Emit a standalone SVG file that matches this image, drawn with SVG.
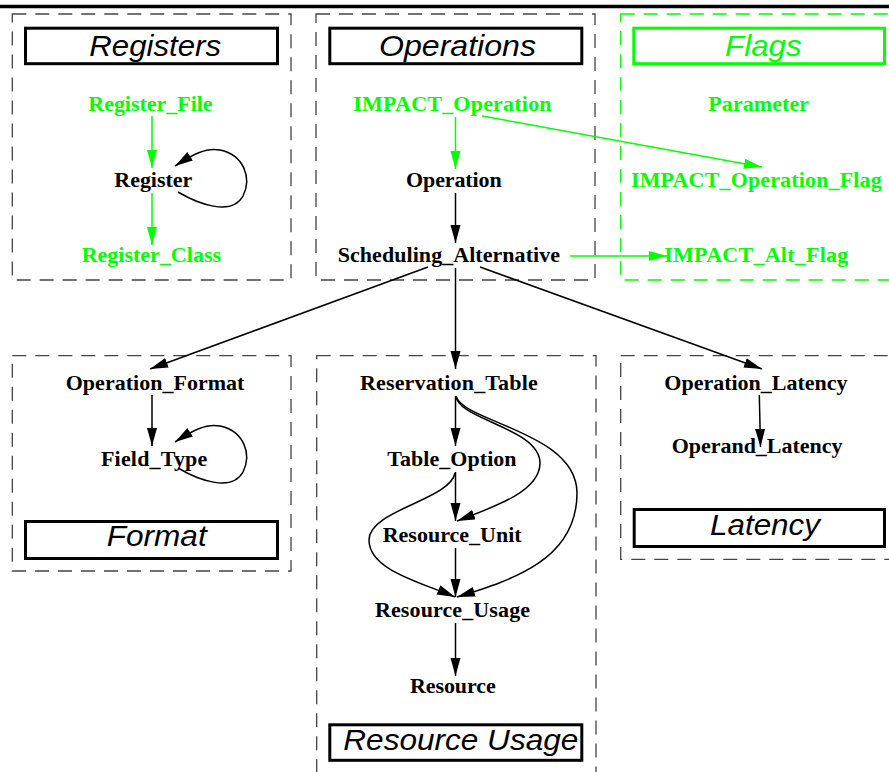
<svg xmlns="http://www.w3.org/2000/svg" width="889" height="772" viewBox="0 0 889 772">
<style>
.bg{fill:#fff}
.cl{fill:none;stroke:#444;stroke-width:1.3;stroke-dasharray:14 9}
.clg{fill:none;stroke:#00ff00;stroke-width:1.3;stroke-dasharray:14 9}
.tb{fill:#fff;stroke:#000;stroke-width:3}
.tbg{fill:#fff;stroke:#00ff00;stroke-width:3}
.tt{font-family:"Liberation Sans",Arial,sans-serif;font-style:italic;font-size:29px;fill:#000}
.ttg{font-family:"Liberation Sans",Arial,sans-serif;font-style:italic;font-size:29px;fill:#00ff00}
.n{font-family:"Liberation Serif","Times New Roman",serif;font-weight:bold;font-size:22px;fill:#000}
.ng{font-family:"Liberation Serif","Times New Roman",serif;font-weight:bold;font-size:22px;fill:#00ff00}
.e{fill:none;stroke:#000;stroke-width:1.5;marker-end:url(#ab)}
.eg{fill:none;stroke:#00ff00;stroke-width:1.5;marker-end:url(#ag)}
</style>
<defs>
<marker id="ab" markerUnits="userSpaceOnUse" markerWidth="19" markerHeight="11" refX="18" refY="5" orient="auto">
<path d="M0,0 L18,5 L0,10 z" fill="#000"/>
</marker>
<marker id="ag" markerUnits="userSpaceOnUse" markerWidth="19" markerHeight="11" refX="18" refY="5" orient="auto">
<path d="M0,0 L18,5 L0,10 z" fill="#00ff00"/>
</marker>
</defs>
<rect class="bg" x="0" y="0" width="889" height="772"/>
<line x1="0" y1="6.5" x2="889" y2="6.5" stroke="#000" stroke-width="3.5"/>

<g id="cluster-registers">
<rect class="cl" x="12.3" y="14" width="278.7" height="266"/>
<rect class="tb" x="25.5" y="28.2" width="252" height="35.5"/>
<text class="tt" x="89.3" y="56" textLength="131.7" lengthAdjust="spacingAndGlyphs">Registers</text>
</g>
<g id="cluster-operations">
<rect class="cl" x="316" y="14" width="279" height="266"/>
<rect class="tb" x="329.8" y="28.2" width="252" height="35.5"/>
<text class="tt" x="379" y="56" textLength="157" lengthAdjust="spacingAndGlyphs">Operations</text>
</g>
<g id="cluster-flags">
<rect class="clg" x="620.7" y="14" width="290" height="266"/>
<rect class="tbg" x="633.8" y="28.2" width="250.7" height="35.5"/>
<text class="ttg" x="725" y="56" textLength="76.7" lengthAdjust="spacingAndGlyphs">Flags</text>
</g>
<g id="cluster-format">
<rect class="cl" x="12.3" y="355.7" width="278.7" height="215.3"/>
<rect class="tb" x="25.5" y="521.5" width="252" height="37"/>
<text class="tt" x="106.7" y="546" textLength="100" lengthAdjust="spacingAndGlyphs">Format</text>
</g>
<g id="cluster-resource-usage">
<rect class="cl" x="316.7" y="355.7" width="279.3" height="470"/>
<rect class="tb" x="329.8" y="724.8" width="252" height="35.5"/>
<text class="tt" x="343.3" y="750" textLength="235" lengthAdjust="spacingAndGlyphs">Resource Usage</text>
</g>
<g id="cluster-latency">
<rect class="cl" x="620.7" y="355.7" width="290" height="203.6"/>
<rect class="tb" x="634.2" y="509.5" width="250.3" height="37"/>
<text class="tt" x="710" y="535" textLength="110" lengthAdjust="spacingAndGlyphs">Latency</text>
</g>

<g id="connectors">
<path class="eg" d="M152,116 L152,168"/>
<path class="eg" d="M152,193 L152,245"/>
<path class="e" d="M178,192 C200,205 232,216 243,196 C252,178 244,155 220,150 C206,147 192,155 175,166"/>
<path class="eg" d="M455.5,117 L455.5,169"/>
<path class="e" d="M455.5,193 L455.5,243"/>
<path class="eg" d="M482,116 L762,167"/>
<path class="eg" d="M570,256 L667,256"/>
<path class="e" d="M428,267 L150,369"/>
<path class="e" d="M455.5,268 L455.5,369"/>
<path class="e" d="M480,267 L762,369"/>
<path class="e" d="M152,395 L152,446"/>
<path class="e" d="M178,468 C200,481 232,492 243,472 C252,454 244,431 220,426 C206,423 192,431 175,442"/>
<path class="e" d="M455.5,396 L455.5,446"/>
<path class="e" d="M455.5,472 L455.5,521"/>
<path class="e" d="M456,396 C458,420 540,428 540,463 C540,490 500,505 457,521"/>
<path class="e" d="M456,396 C462,422 577,432 577,493 C577,560 512,580 457,597"/>
<path class="e" d="M455,473 C450,500 369,510 369,540 C369,570 420,582 455,597"/>
<path class="e" d="M455.5,548 L455.5,597"/>
<path class="e" d="M455.5,623 L455.5,676"/>
<path class="e" d="M759.3,395 L760.5,447"/>
</g>

<g id="Register_File"><text class="ng" x="88.3" y="111" textLength="124.3" lengthAdjust="spacing">Register_File</text></g>
<g id="Register"><text class="n" x="114.3" y="186.7" textLength="78" lengthAdjust="spacing">Register</text></g>
<g id="Register_Class"><text class="ng" x="81.7" y="261.7" textLength="139.3" lengthAdjust="spacing">Register_Class</text></g>
<g id="IMPACT_Operation"><text class="ng" x="353.3" y="111" textLength="198.3" lengthAdjust="spacing">IMPACT_Operation</text></g>
<g id="Operation"><text class="n" x="406" y="186.7" textLength="95.7" lengthAdjust="spacing">Operation</text></g>
<g id="Scheduling_Alternative"><text class="n" x="337.7" y="261.7" textLength="222.3" lengthAdjust="spacing">Scheduling_Alternative</text></g>
<g id="Parameter"><text class="ng" x="708.3" y="111" textLength="100.7" lengthAdjust="spacing">Parameter</text></g>
<g id="IMPACT_Operation_Flag"><text class="ng" x="631" y="186.7" textLength="250.7" lengthAdjust="spacing">IMPACT_Operation_Flag</text></g>
<g id="IMPACT_Alt_Flag"><text class="ng" x="664.3" y="261.7" textLength="184" lengthAdjust="spacing">IMPACT_Alt_Flag</text></g>
<g id="Operation_Format"><text class="n" x="65.7" y="390" textLength="178.7" lengthAdjust="spacing">Operation_Format</text></g>
<g id="Field_Type"><text class="n" x="101" y="466" textLength="106.3" lengthAdjust="spacing">Field_Type</text></g>
<g id="Reservation_Table"><text class="n" x="360" y="390" textLength="177.7" lengthAdjust="spacing">Reservation_Table</text></g>
<g id="Table_Option"><text class="n" x="387.3" y="466" textLength="129.3" lengthAdjust="spacing">Table_Option</text></g>
<g id="Resource_Unit"><text class="n" x="382.7" y="541.7" textLength="139" lengthAdjust="spacing">Resource_Unit</text></g>
<g id="Resource_Usage"><text class="n" x="375" y="617.3" textLength="155" lengthAdjust="spacing">Resource_Usage</text></g>
<g id="Resource"><text class="n" x="410" y="693.3" textLength="85.7" lengthAdjust="spacing">Resource</text></g>
<g id="Operation_Latency"><text class="n" x="664.3" y="390" textLength="183.3" lengthAdjust="spacing">Operation_Latency</text></g>
<g id="Operand_Latency"><text class="n" x="671.7" y="452.7" textLength="170.7" lengthAdjust="spacing">Operand_Latency</text></g>
</svg>
